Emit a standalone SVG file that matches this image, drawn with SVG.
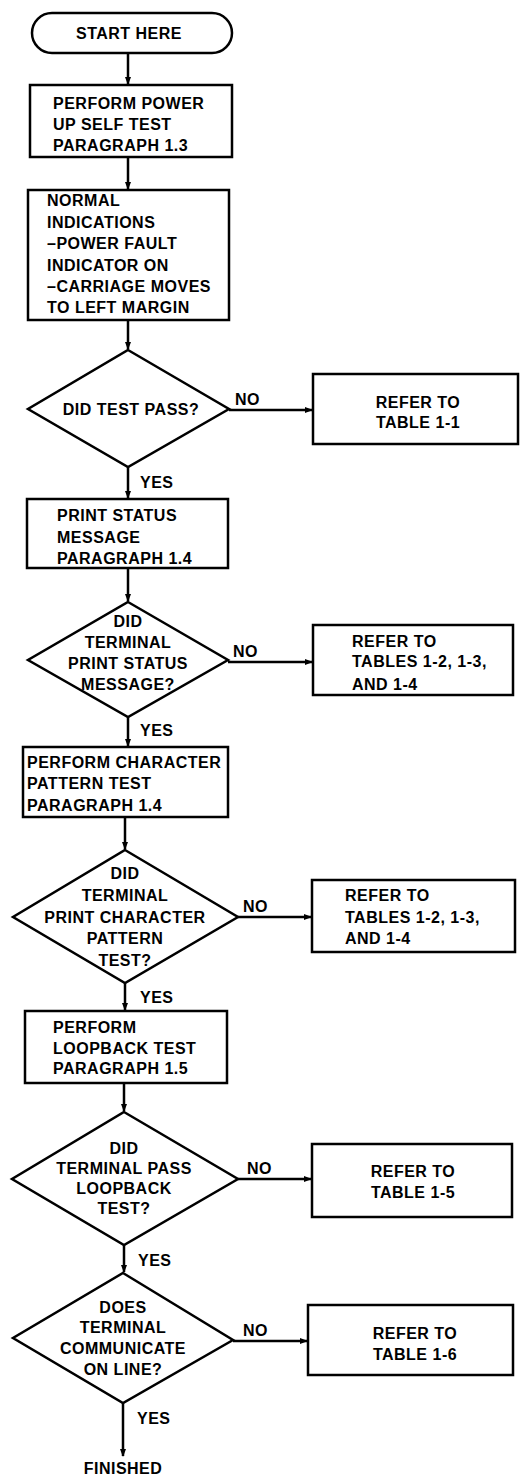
<svg xmlns="http://www.w3.org/2000/svg" width="527" height="1480" viewBox="0 0 527 1480">
<style>
.s{fill:#fff;stroke:#000;stroke-width:2.5}
.c{fill:none;stroke:#000;stroke-width:2.5}
text{font-family:"Liberation Sans",Arial,sans-serif;font-weight:bold;font-size:16px;letter-spacing:0.5px;fill:#000}
.m{text-anchor:middle}
</style>
<defs>
<marker id="ah" markerWidth="8" markerHeight="8" refX="7" refY="4" orient="auto" markerUnits="userSpaceOnUse">
<path d="M0,1 L8,4 L0,7 Z" fill="#000"/>
</marker>
</defs>
<rect width="527" height="1480" fill="#fff"/>
<g id="connectors">
<line class="c" x1="128" y1="53" x2="128" y2="84" marker-end="url(#ah)"/>
<line class="c" x1="128" y1="157" x2="128" y2="189" marker-end="url(#ah)"/>
<line class="c" x1="128" y1="320" x2="128" y2="349" marker-end="url(#ah)"/>
<line class="c" x1="128" y1="467" x2="128" y2="498" marker-end="url(#ah)"/>
<line class="c" x1="128" y1="568" x2="128" y2="601" marker-end="url(#ah)"/>
<line class="c" x1="128" y1="717" x2="128" y2="746" marker-end="url(#ah)"/>
<line class="c" x1="125" y1="817" x2="125" y2="849" marker-end="url(#ah)"/>
<line class="c" x1="125" y1="983" x2="125" y2="1010" marker-end="url(#ah)"/>
<line class="c" x1="124" y1="1083" x2="124" y2="1111" marker-end="url(#ah)"/>
<line class="c" x1="124" y1="1245" x2="124" y2="1272" marker-end="url(#ah)"/>
<line class="c" x1="123" y1="1403" x2="123" y2="1456" marker-end="url(#ah)"/>
<line class="c" x1="229" y1="410" x2="312" y2="410" marker-end="url(#ah)"/>
<line class="c" x1="228" y1="662" x2="312" y2="662" marker-end="url(#ah)"/>
<line class="c" x1="238" y1="917" x2="311" y2="917" marker-end="url(#ah)"/>
<line class="c" x1="238" y1="1179" x2="311" y2="1179" marker-end="url(#ah)"/>
<line class="c" x1="233" y1="1341" x2="307" y2="1341" marker-end="url(#ah)"/>
<text x="235" y="405">NO</text>
<text x="233" y="657">NO</text>
<text x="243" y="912">NO</text>
<text x="247" y="1174">NO</text>
<text x="243" y="1336">NO</text>
<text x="140" y="488">YES</text>
<text x="140" y="736">YES</text>
<text x="140" y="1003">YES</text>
<text x="138" y="1266">YES</text>
<text x="137" y="1424">YES</text>
</g>
<g id="start">
<rect class="s" x="32" y="13" width="200" height="40" rx="20"/>
<text class="m" x="129" y="39">START HERE</text>
</g>
<g id="selftest">
<rect class="s" x="30" y="85" width="202" height="72"/>
<text x="53" y="109">PERFORM POWER</text>
<text x="53" y="130">UP SELF TEST</text>
<text x="53" y="151">PARAGRAPH 1.3</text>
</g>
<g id="normal">
<rect class="s" x="28" y="190" width="201" height="130"/>
<text x="47" y="206">NORMAL</text>
<text x="47" y="228">INDICATIONS</text>
<text x="47" y="249">–POWER FAULT</text>
<text x="47" y="271">INDICATOR ON</text>
<text x="47" y="292">–CARRIAGE MOVES</text>
<text x="47" y="313">TO LEFT MARGIN</text>
</g>
<g id="d1">
<polygon class="s" points="128,350 229,409 128,467 28,409"/>
<text class="m" x="131" y="415">DID TEST PASS?</text>
</g>
<g id="r1">
<rect class="s" x="313" y="374" width="205" height="70"/>
<text class="m" x="418" y="408">REFER TO</text>
<text class="m" x="418" y="428">TABLE 1-1</text>
</g>
<g id="status">
<rect class="s" x="27" y="499" width="201" height="69"/>
<text x="57" y="521">PRINT STATUS</text>
<text x="57" y="543">MESSAGE</text>
<text x="57" y="564">PARAGRAPH 1.4</text>
</g>
<g id="d2">
<polygon class="s" points="128,602 228,660 128,717 28,660"/>
<text class="m" x="128" y="627">DID</text>
<text class="m" x="128" y="648">TERMINAL</text>
<text class="m" x="128" y="669">PRINT STATUS</text>
<text class="m" x="128" y="690">MESSAGE?</text>
</g>
<g id="r2">
<rect class="s" x="313" y="625" width="200" height="70"/>
<text x="352" y="647">REFER TO</text>
<text x="352" y="667">TABLES 1-2, 1-3,</text>
<text x="352" y="690">AND 1-4</text>
</g>
<g id="charpattern">
<rect class="s" x="23" y="747" width="205" height="70"/>
<text x="27" y="768">PERFORM CHARACTER</text>
<text x="27" y="789">PATTERN TEST</text>
<text x="27" y="811">PARAGRAPH 1.4</text>
</g>
<g id="d3">
<polygon class="s" points="125,850 238,917 125,983 13,917"/>
<text class="m" x="125" y="879">DID</text>
<text class="m" x="125" y="901">TERMINAL</text>
<text class="m" x="125" y="923">PRINT CHARACTER</text>
<text class="m" x="125" y="944">PATTERN</text>
<text class="m" x="125" y="966">TEST?</text>
</g>
<g id="r3">
<rect class="s" x="312" y="880" width="203" height="72"/>
<text x="345" y="901">REFER TO</text>
<text x="345" y="923">TABLES 1-2, 1-3,</text>
<text x="345" y="944">AND 1-4</text>
</g>
<g id="loopback">
<rect class="s" x="25" y="1011" width="202" height="72"/>
<text x="53" y="1033">PERFORM</text>
<text x="53" y="1054">LOOPBACK TEST</text>
<text x="53" y="1074">PARAGRAPH 1.5</text>
</g>
<g id="d4">
<polygon class="s" points="124,1112 238,1179 124,1245 12,1179"/>
<text class="m" x="124" y="1154">DID</text>
<text class="m" x="124" y="1174">TERMINAL PASS</text>
<text class="m" x="124" y="1194">LOOPBACK</text>
<text class="m" x="124" y="1214">TEST?</text>
</g>
<g id="r4">
<rect class="s" x="312" y="1144" width="200" height="73"/>
<text class="m" x="413" y="1177">REFER TO</text>
<text class="m" x="413" y="1198">TABLE 1-5</text>
</g>
<g id="d5">
<polygon class="s" points="123,1273 233,1340 123,1403 13,1338"/>
<text class="m" x="123" y="1313">DOES</text>
<text class="m" x="123" y="1333">TERMINAL</text>
<text class="m" x="123" y="1354">COMMUNICATE</text>
<text class="m" x="123" y="1375">ON LINE?</text>
</g>
<g id="r5">
<rect class="s" x="308" y="1305" width="205" height="70"/>
<text class="m" x="415" y="1339">REFER TO</text>
<text class="m" x="415" y="1360">TABLE 1-6</text>
</g>
<g id="finished">
<text class="m" x="123" y="1474">FINISHED</text>
</g>
</svg>
